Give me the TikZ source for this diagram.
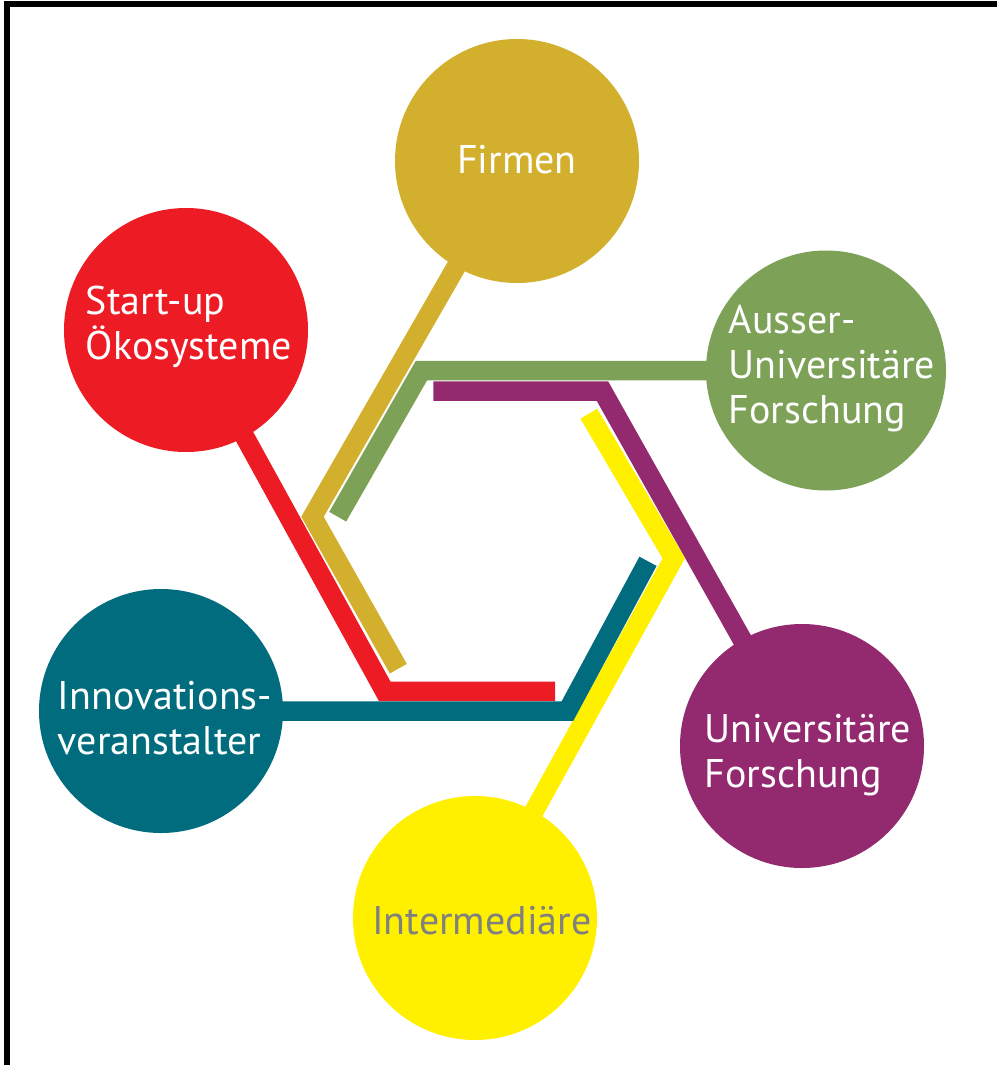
\documentclass[tikz,border=0pt]{standalone}
\usepackage{fontspec}
\setmainfont{PT Sans}
\definecolor{cgold}{RGB}{211,175,46}
\definecolor{cred}{RGB}{237,28,36}
\definecolor{cgreen}{RGB}{124,161,87}
\definecolor{cteal}{RGB}{0,108,125}
\definecolor{cpurple}{RGB}{147,41,110}
\definecolor{cyellow}{RGB}{255,240,0}
\definecolor{cgraytext}{RGB}{128,128,128}
\begin{document}
\begin{tikzpicture}[x=1pt,y=-1pt,
  arm/.style={line width=19.5pt, line join=miter, line cap=butt},
  disc/.style={circle, minimum size=244pt, inner sep=0pt},
  lbl/.style={text=white, align=left, inner sep=0pt, font=\fontsize{40}{45}\selectfont}]
\useasboundingbox (0,0) rectangle (996,1065);
\fill[white] (0,0) rectangle (996,1065);
\draw[line width=6pt] (7,4.5) rectangle (1010,1080);
% circle positions
\coordinate (cF) at (517,161);
\coordinate (cS) at (186,330);
\coordinate (cA) at (826,370.5);
\coordinate (cI) at (161,711);
\coordinate (cU) at (802,746);
\coordinate (cM) at (475,918);
% hexagon corners and ends
\coordinate (gL) at (312.5,516.7);
\coordinate (gE) at (398.3,668.7);
\coordinate (grL) at (421.5,370.5);
\coordinate (grE) at (337.7,516.7);
\coordinate (pS) at (433.3,391.2);
\coordinate (pR) at (602.5,391.2);
\coordinate (yS) at (588.8,413.7);
\coordinate (yR) at (673.8,558.3);
\coordinate (rL) at (384.7,691.3);
\coordinate (rE) at (555,691.3);
\coordinate (tR) at (567.5,711);
\coordinate (tE) at (648,561.3);
% nodes
\node[disc, fill=cgold] (firmen) at (cF) {};
\node[disc, fill=cred] (startup) at (cS) {};
\node[disc, fill=cgreen, minimum size=240pt] (ausser) at (cA) {};
\node[disc, fill=cteal] (innov) at (cI) {};
\node[disc, fill=cpurple] (univ) at (cU) {};
\node[disc, fill=cyellow] (inter) at (cM) {};
% connectors
\draw[arm, cgold] (firmen.center) -- (gL) -- (gE);
\draw[arm, cgreen] (ausser.center) -- (grL) -- (grE);
\draw[arm, cpurple] (pS) -- (pR) -- (univ.center);
\draw[arm, cyellow] (yS) -- (yR) -- (inter.center);
\draw[arm, cred] (startup.center) -- (rL) -- (rE);
\draw[arm, cteal] (innov.center) -- (tR) -- (tE);
% labels
\node[lbl] (firmen-t) at (517,160) {Firmen};
\node[lbl] (startup-t) at (189,327) {Start-up\\Ökosysteme};
\node[lbl] (ausser-t) at (832,369) {Ausser-\\Universitäre\\Forschung};
\node[lbl] (innov-t) at (165,718) {Innovations-\\veranstalter};
\node[lbl] (univ-t) at (808,755) {Universitäre\\Forschung};
\node[lbl, text=cgraytext] (inter-t) at (482,921) {Intermediäre};
\end{tikzpicture}
\end{document}
